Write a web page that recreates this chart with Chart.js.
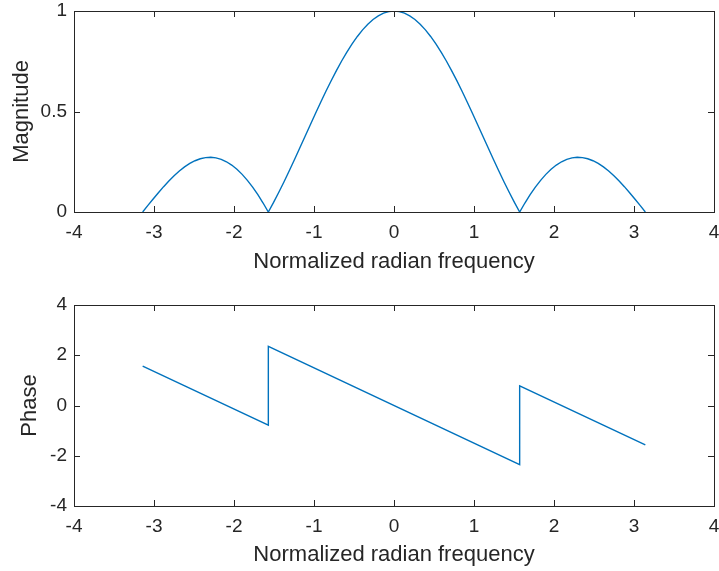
<!DOCTYPE html>
<html>
<head>
<meta charset="utf-8">
<script src="https://cdn.jsdelivr.net/npm/chart.js@4.4.0/dist/chart.umd.min.js"></script>
<style>
    html, body { margin: 0; padding: 0; background: #fff; overflow: hidden; }
    canvas { position: absolute; left: 0; display: block; }
    #magChart { top: 0; }
    #phaseChart { top: 285px; }
</style>
</head>
<body>
<canvas id="magChart" width="719" height="285"></canvas>
<canvas id="phaseChart" width="719" height="286"></canvas>
<script>
// Magnitude response
const freqMag = [
    -3.1416, -3.0761, -3.0107, -2.9452, -2.8798, -2.8143, -2.7489, -2.6834,
    -2.6180, -2.5525, -2.4871, -2.4216, -2.3562, -2.2907, -2.2253, -2.1598,
    -2.0944, -2.0289, -1.9635, -1.8980, -1.8326, -1.7671, -1.7017, -1.6362,
    -1.5708, -1.5053, -1.4399, -1.3744, -1.3090, -1.2435, -1.1781, -1.1126,
    -1.0472, -0.9817, -0.9163, -0.8508, -0.7854, -0.7199, -0.6545, -0.5890,
    -0.5236, -0.4581, -0.3927, -0.3272, -0.2618, -0.1963, -0.1309, -0.0654,
    0,
    0.0654, 0.1309, 0.1963, 0.2618, 0.3272, 0.3927, 0.4581, 0.5236,
    0.5890, 0.6545, 0.7199, 0.7854, 0.8508, 0.9163, 0.9817, 1.0472,
    1.1126, 1.1781, 1.2435, 1.3090, 1.3744, 1.4399, 1.5053, 1.5708,
    1.6362, 1.7017, 1.7671, 1.8326, 1.8980, 1.9635, 2.0289, 2.0944,
    2.1598, 2.2253, 2.2907, 2.3562, 2.4216, 2.4871, 2.5525, 2.6180,
    2.6834, 2.7489, 2.8143, 2.8798, 2.9452, 3.0107, 3.0761, 3.1416
];
const magnitude = [
    0, 0.0327, 0.0648, 0.0961, 0.1261, 0.1543, 0.1802, 0.2037,
    0.2242, 0.2414, 0.2550, 0.2648, 0.2706, 0.2721, 0.2693, 0.2619,
    0.2500, 0.2336, 0.2126, 0.1872, 0.1576, 0.1238, 0.0861, 0.0447,
    0, 0.0477, 0.0981, 0.1508, 0.2053, 0.2613, 0.3182, 0.3756,
    0.4330, 0.4900, 0.5460, 0.6006, 0.6533, 0.7037, 0.7513, 0.7957,
    0.8365, 0.8734, 0.9061, 0.9343, 0.9577, 0.9761, 0.9893, 0.9973,
    1,
    0.9973, 0.9893, 0.9761, 0.9577, 0.9343, 0.9061, 0.8734, 0.8365,
    0.7957, 0.7513, 0.7037, 0.6533, 0.6006, 0.5460, 0.4900, 0.4330,
    0.3756, 0.3182, 0.2613, 0.2053, 0.1508, 0.0981, 0.0477, 0,
    0.0447, 0.0861, 0.1238, 0.1576, 0.1872, 0.2126, 0.2336, 0.2500,
    0.2619, 0.2693, 0.2721, 0.2706, 0.2648, 0.2550, 0.2414, 0.2242,
    0.2037, 0.1802, 0.1543, 0.1261, 0.0961, 0.0648, 0.0327, 0
];

// Phase response (straight pieces with jumps at +-pi/2)
const freqPhase = [-3.1416, -1.5708, -1.5708, 1.5708, 1.5708, 3.1416];
const phase = [1.5708, -0.7854, 2.3562, -2.3562, 0.7854, -1.5708];

// Axis ticks
const freqTicks = [-4, -3, -2, -1, 0, 1, 2, 3, 4];
const magTicks = [0, 0.5, 1];
const phaseTicks = [-4, -2, 0, 2, 4];

const axisColor = "#262626";
const lineColor = "#0072BD";
const fontFamily = "'Liberation Sans', Arial, Helvetica, sans-serif";

// MATLAB-like box with inward ticks on all four sides
const matlabBox = {
    id: "matlabBox",
    afterDraw(chart) {
        const { ctx, chartArea } = chart;
        const { left, right, top, bottom } = chartArea;
        const xs = chart.scales.x;
        const ys = chart.scales.y;
        const len = 6;
        ctx.save();
        ctx.strokeStyle = axisColor;
        ctx.lineWidth = 1;
        ctx.beginPath();
        xs.ticks.forEach((t) => {
            const px = Math.round(xs.getPixelForValue(t.value)) + 0.5;
            ctx.moveTo(px, bottom);
            ctx.lineTo(px, bottom - len);
            ctx.moveTo(px, top);
            ctx.lineTo(px, top + len);
        });
        ys.ticks.forEach((t) => {
            const py = Math.round(ys.getPixelForValue(t.value)) + 0.5;
            ctx.moveTo(left, py);
            ctx.lineTo(left + len, py);
            ctx.moveTo(right, py);
            ctx.lineTo(right - len, py);
        });
        ctx.stroke();
        ctx.strokeRect(
            Math.round(left) + 0.5,
            Math.round(top) + 0.5,
            Math.round(right - left),
            Math.round(bottom - top)
        );
        ctx.restore();
    },
};

function makeChart(id, xs, ys, yTicks, yTitle, cfg) {
    const ctx = document.getElementById(id).getContext("2d");
    return new Chart(ctx, {
        type: "line",
        data: {
            datasets: [
                {
                    data: xs.map((x, i) => ({ x: x, y: ys[i] })),
                    borderColor: lineColor,
                    borderWidth: 1.4,
                    pointRadius: 0,
                    tension: 0,
                    fill: false,
                },
            ],
        },
        options: {
            responsive: false,
            animation: false,
            layout: { padding: { top: cfg.padTop, right: 5, left: 0, bottom: 0 } },
            plugins: { legend: { display: false }, tooltip: { enabled: false } },
            scales: {
                x: {
                    type: "linear",
                    min: freqTicks[0],
                    max: freqTicks[freqTicks.length - 1],
                    afterBuildTicks: (s) => { s.ticks = freqTicks.map((v) => ({ value: v })); },
                    ticks: {
                        color: axisColor,
                        font: { family: fontFamily, size: 19 },
                        padding: 9,
                        callback: (v) => String(v),
                    },
                    grid: { display: false, drawTicks: false },
                    border: { display: false },
                    title: {
                        display: true,
                        text: "Normalized radian frequency",
                        color: axisColor,
                        font: { family: fontFamily, size: 22 },
                        padding: { top: 0, bottom: cfg.xTitlePad },
                    },
                    afterFit: (s) => {
                        s.height = cfg.xAxisHeight;
                        // label overhang is already covered by the padding
                        s.paddingLeft = 0;
                        s.paddingRight = 0;
                    },
                },
                y: {
                    type: "linear",
                    min: yTicks[0],
                    max: yTicks[yTicks.length - 1],
                    afterBuildTicks: (s) => { s.ticks = yTicks.map((v) => ({ value: v })); },
                    ticks: {
                        color: axisColor,
                        font: { family: fontFamily, size: 19 },
                        padding: 7,
                        callback: (v) => String(v),
                    },
                    grid: { display: false, drawTicks: false },
                    border: { display: false },
                    title: {
                        display: true,
                        text: yTitle,
                        color: axisColor,
                        font: { family: fontFamily, size: 22 },
                        padding: { top: cfg.yTitlePad, bottom: 0 },
                    },
                    afterFit: (s) => {
                        s.width = 74;
                        s.paddingTop = 0;
                        s.paddingBottom = 0;
                    },
                },
            },
        },
        plugins: [matlabBox],
    });
}

makeChart("magChart", freqMag, magnitude, magTicks, "Magnitude",
    { padTop: 11, xAxisHeight: 73, xTitlePad: 10, yTitlePad: 9 });
makeChart("phaseChart", freqPhase, phase, phaseTicks, "Phase",
    { padTop: 20, xAxisHeight: 65, xTitlePad: 3, yTitlePad: 17 });
</script>
</body>
</html>
